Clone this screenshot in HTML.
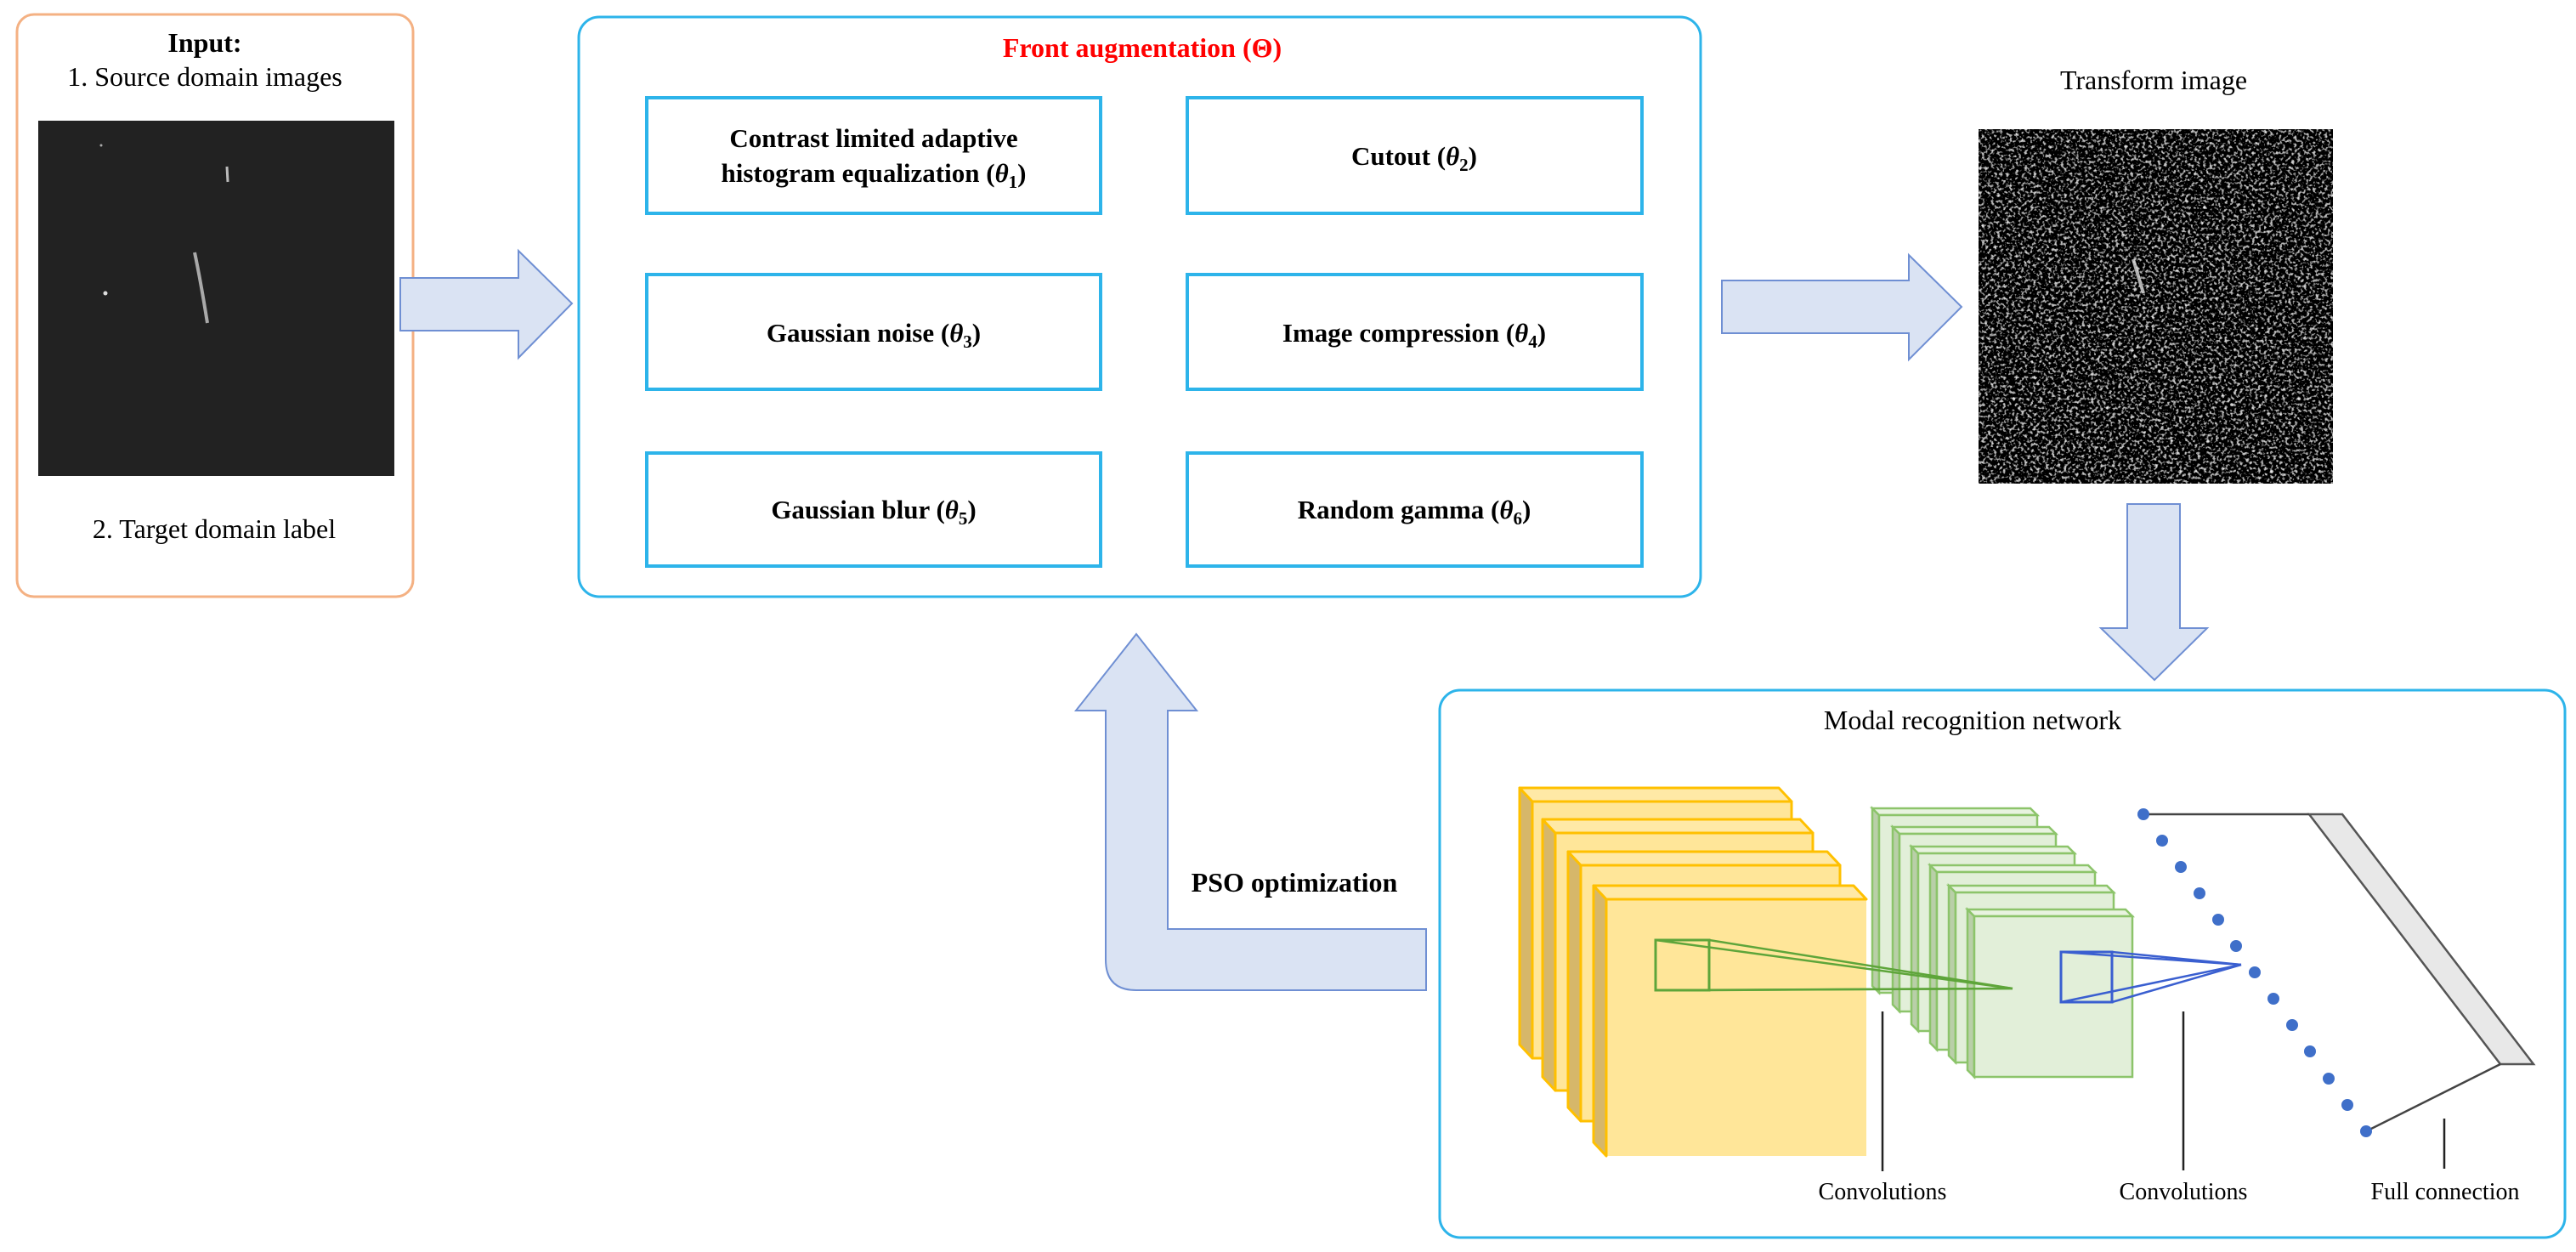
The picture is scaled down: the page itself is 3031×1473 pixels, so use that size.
<!DOCTYPE html>
<html><head><meta charset="utf-8"><style>
html,body{margin:0;padding:0;background:#fff;}
svg{display:block;}
text{font-family:"Liberation Serif",serif;}
</style></head><body>
<svg width="3031" height="1473" viewBox="0 0 3031 1473" xmlns="http://www.w3.org/2000/svg">
<defs>
<filter id="noise2" x="0" y="0" width="100%" height="100%">
<feTurbulence type="fractalNoise" baseFrequency="0.28" numOctaves="2" seed="7" result="t"/>
<feColorMatrix in="t" type="matrix" values="2.6 0 0 0 -1.4  2.6 0 0 0 -1.4  2.6 0 0 0 -1.4  0 0 0 0 1"/>
</filter>
</defs>

<!-- Input box -->
<rect x="20" y="17" width="466" height="685" rx="20" fill="#fff" stroke="#f4b183" stroke-width="3"/>
<text x="241" y="61" font-size="32" font-weight="bold" text-anchor="middle">Input:</text>
<text x="241" y="101" font-size="32" text-anchor="middle">1. Source domain images</text>
<rect x="45" y="142" width="419" height="418" fill="#222"/>
<path d="M229 297 Q236 330 244 380" stroke="#ccc" stroke-width="4" fill="none" opacity="0.8"/>
<path d="M267 196 L268 214" stroke="#bbb" stroke-width="3"/>
<circle cx="124" cy="345" r="2.5" fill="#ddd"/>
<circle cx="119" cy="171" r="1.5" fill="#aaa"/>
<text x="252" y="633" font-size="32" text-anchor="middle">2. Target domain label</text>

<!-- Arrow 1 -->
<polygon points="471,327 610,327 610,295 673,357 610,421 610,389 471,389" fill="#dae3f3" stroke="#6f8fd3" stroke-width="2"/>

<!-- Augmentation box -->
<rect x="681" y="20" width="1320" height="682" rx="24" fill="#fff" stroke="#2db4ea" stroke-width="3"/>
<text x="1344" y="67" font-size="32" font-weight="bold" fill="#ff0000" text-anchor="middle">Front augmentation (Θ)</text>

<g fill="#fff" stroke="#2db4ea" stroke-width="4">
<rect x="761" y="115" width="534" height="136"/>
<rect x="1397" y="115" width="535" height="136"/>
<rect x="761" y="323" width="534" height="135"/>
<rect x="1397" y="323" width="535" height="135"/>
<rect x="761" y="533" width="534" height="133"/>
<rect x="1397" y="533" width="535" height="133"/>
</g>
<g font-size="31" font-weight="bold" text-anchor="middle">
<text x="1028" y="173">Contrast limited adaptive</text>
<text x="1028" y="214">histogram equalization (<tspan font-style="italic">θ</tspan><tspan font-size="21" dy="7">1</tspan><tspan dy="-7">)</tspan></text>
<text x="1664" y="194">Cutout (<tspan font-style="italic">θ</tspan><tspan font-size="21" dy="7">2</tspan><tspan dy="-7">)</tspan></text>
<text x="1028" y="402">Gaussian noise (<tspan font-style="italic">θ</tspan><tspan font-size="21" dy="7">3</tspan><tspan dy="-7">)</tspan></text>
<text x="1664" y="402">Image compression (<tspan font-style="italic">θ</tspan><tspan font-size="21" dy="7">4</tspan><tspan dy="-7">)</tspan></text>
<text x="1028" y="610">Gaussian blur (<tspan font-style="italic">θ</tspan><tspan font-size="21" dy="7">5</tspan><tspan dy="-7">)</tspan></text>
<text x="1664" y="610">Random gamma (<tspan font-style="italic">θ</tspan><tspan font-size="21" dy="7">6</tspan><tspan dy="-7">)</tspan></text>
</g>

<!-- Arrow 2 -->
<polygon points="2026,330 2246,330 2246,300 2308,361 2246,423 2246,392 2026,392" fill="#dae3f3" stroke="#6f8fd3" stroke-width="2"/>

<!-- Transform image -->
<text x="2534" y="105" font-size="32" text-anchor="middle">Transform image</text>
<rect x="2328" y="152" width="417" height="417" fill="#000" filter="url(#noise2)"/>
<path d="M2510 305 L2522 345" stroke="#ddd" stroke-width="4" opacity="0.8"/>

<!-- Down arrow -->
<polygon points="2503,593 2565,593 2565,739 2597,739 2535,800 2472,739 2503,739" fill="#dae3f3" stroke="#6f8fd3" stroke-width="2"/>

<!-- PSO arrow -->
<path d="M1301,836 L1266,836 L1337,746 L1408,836 L1374,836 L1374,1093 L1678,1093 L1678,1165 L1337,1165 Q1301,1165 1301,1129 Z" fill="#dae3f3" stroke="#6f8fd3" stroke-width="2"/>
<text x="1523" y="1049" font-size="32" font-weight="bold" text-anchor="middle">PSO optimization</text>

<!-- Network box -->
<rect x="1694" y="812" width="1324" height="644" rx="24" fill="#fff" stroke="#2db4ea" stroke-width="3"/>
<text x="2321" y="858" font-size="32" text-anchor="middle">Modal recognition network</text>

<!-- Yellow slabs -->
<g stroke="#ffc000" stroke-width="3" stroke-linejoin="round">
<polygon points="1803,943 1788,927 1788,1229 1803,1245" fill="#d6b76a"/>
<polygon points="1803,943 1788,927 2093,927 2108,943" fill="#ffe9a6"/>
<rect x="1803" y="943" width="305" height="302" fill="#ffe699"/>

<polygon points="1830,980 1815,964 1815,1267 1830,1283" fill="#d6b76a"/>
<polygon points="1830,980 1815,964 2118,964 2133,980" fill="#ffe9a6"/>
<rect x="1830" y="980" width="303" height="303" fill="#ffe699"/>

<polygon points="1860,1018 1845,1002 1845,1303 1860,1319" fill="#d6b76a"/>
<polygon points="1860,1018 1845,1002 2150,1002 2165,1018" fill="#ffe9a6"/>
<rect x="1860" y="1018" width="305" height="301" fill="#ffe699"/>

<polygon points="1890,1058 1875,1042 1875,1344 1890,1360" fill="#d6b76a"/>
<polygon points="1890,1058 1875,1042 2181,1042 2196,1058" fill="#ffe9a6"/>
</g>
<rect x="1890" y="1058" width="306" height="302" fill="#ffe699"/>
<polyline points="2196,1058 1890,1058 1890,1360" fill="none" stroke="#ffc000" stroke-width="3"/>

<!-- Green slabs -->
<g stroke="#8cc46a" stroke-width="2.5">
<g>
<polygon points="2211,959 2203,951 2203,1160 2211,1168" fill="#b9cfa8"/>
<polygon points="2211,959 2203,951 2389,951 2397,959" fill="#e8f3e0"/>
<rect x="2211" y="959" width="186" height="209" fill="#e2efd9"/>
</g>
<g>
<polygon points="2235,981 2227,973 2227,1182 2235,1190" fill="#b9cfa8"/>
<polygon points="2235,981 2227,973 2411,973 2419,981" fill="#e8f3e0"/>
<rect x="2235" y="981" width="184" height="209" fill="#e2efd9"/>
</g>
<g>
<polygon points="2257,1004 2249,996 2249,1205 2257,1213" fill="#b9cfa8"/>
<polygon points="2257,1004 2249,996 2433,996 2441,1004" fill="#e8f3e0"/>
<rect x="2257" y="1004" width="184" height="209" fill="#e2efd9"/>
</g>
<g>
<polygon points="2279,1026 2271,1018 2271,1227 2279,1235" fill="#b9cfa8"/>
<polygon points="2279,1026 2271,1018 2457,1018 2465,1026" fill="#e8f3e0"/>
<rect x="2279" y="1026" width="186" height="209" fill="#e2efd9"/>
</g>
<g>
<polygon points="2301,1050 2293,1042 2293,1242 2301,1250" fill="#b9cfa8"/>
<polygon points="2301,1050 2293,1042 2479,1042 2487,1050" fill="#e8f3e0"/>
<rect x="2301" y="1050" width="186" height="200" fill="#e2efd9"/>
</g>
<g>
<polygon points="2323,1078 2315,1070 2315,1259 2323,1267" fill="#b9cfa8"/>
<polygon points="2323,1078 2315,1070 2501,1070 2509,1078" fill="#e8f3e0"/>
<rect x="2323" y="1078" width="186" height="189" fill="#e2efd9"/>
</g>
</g>

<!-- receptive fields -->
<rect x="1948" y="1106" width="63" height="59" fill="none" stroke="#5ea53a" stroke-width="3"/>
<g stroke="#5ea53a" stroke-width="2.5" fill="none">
<line x1="1948" y1="1106" x2="2368" y2="1163"/>
<line x1="2011" y1="1106" x2="2368" y2="1163"/>
<line x1="1948" y1="1165" x2="2368" y2="1163"/>
<line x1="2011" y1="1165" x2="2368" y2="1163"/>
</g>
<rect x="2425" y="1120" width="60" height="59" fill="none" stroke="#3a5fd0" stroke-width="3"/>
<g stroke="#3a5fd0" stroke-width="2.5" fill="none">
<line x1="2425" y1="1120" x2="2637" y2="1135"/>
<line x1="2485" y1="1120" x2="2637" y2="1135"/>
<line x1="2425" y1="1179" x2="2637" y2="1135"/>
<line x1="2485" y1="1179" x2="2637" y2="1135"/>
</g>

<!-- Fully connected -->
<polygon points="2717,958 2756,958 2981,1252 2942,1252" fill="#e8e8e8" stroke="#555" stroke-width="2.5"/>
<line x1="2522" y1="958" x2="2717" y2="958" stroke="#444" stroke-width="2.5"/>
<line x1="2784" y1="1331" x2="2942" y2="1252" stroke="#444" stroke-width="2.5"/>
<g fill="#3f6fc9">
<circle cx="2522" cy="958" r="7"/>
<circle cx="2544" cy="989" r="7"/>
<circle cx="2566" cy="1020" r="7"/>
<circle cx="2588" cy="1051" r="7"/>
<circle cx="2610" cy="1082" r="7"/>
<circle cx="2631" cy="1113" r="7"/>
<circle cx="2653" cy="1144" r="7"/>
<circle cx="2675" cy="1175" r="7"/>
<circle cx="2697" cy="1206" r="7"/>
<circle cx="2718" cy="1237" r="7"/>
<circle cx="2740" cy="1269" r="7"/>
<circle cx="2762" cy="1300" r="7"/>
<circle cx="2784" cy="1331" r="7"/>
</g>

<!-- label lines -->
<g stroke="#222" stroke-width="2.5">
<line x1="2215" y1="1190" x2="2215" y2="1378"/>
<line x1="2569" y1="1190" x2="2569" y2="1377"/>
<line x1="2876" y1="1316" x2="2876" y2="1375"/>
</g>
<g font-size="28" text-anchor="middle">
<text x="2215" y="1411">Convolutions</text>
<text x="2569" y="1411">Convolutions</text>
<text x="2877" y="1411">Full connection</text>
</g>
</svg>
</body></html>
